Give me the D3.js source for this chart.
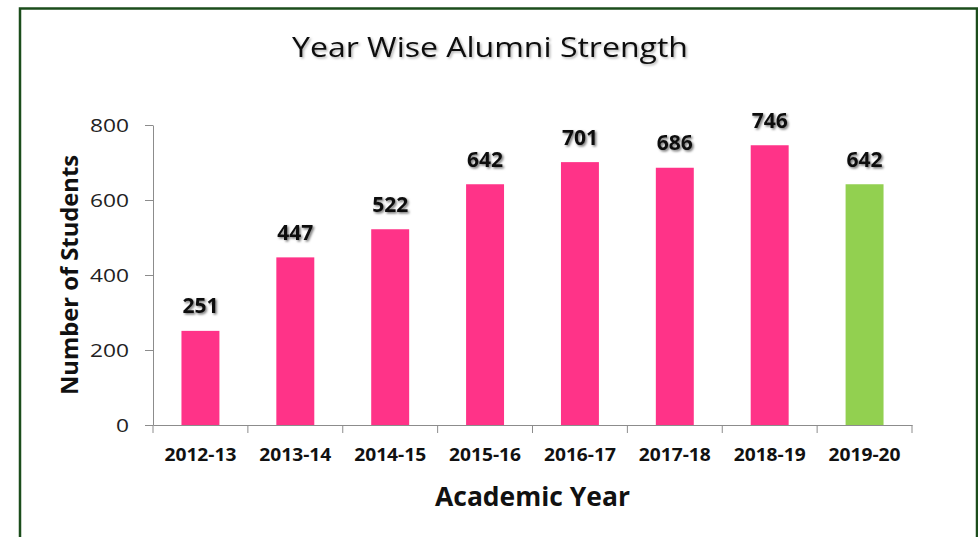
<!DOCTYPE html>
<html><head><meta charset="utf-8">
<script src="https://cdn.jsdelivr.net/npm/d3@7"></script>
<style>body{margin:0;background:#fff}svg{display:block}</style>
</head><body>
<svg id="c" width="978" height="537"></svg>
<script>
const categories = ["2012-13","2013-14","2014-15","2015-16","2016-17","2017-18","2018-19","2019-20"];
const values = [251,447,522,642,701,686,746,642];
const barColors = ["#FF3388","#FF3388","#FF3388","#FF3388","#FF3388","#FF3388","#FF3388","#92D050"];
const yTicks = [0,200,400,600,800];

const svg = d3.select("#c");
const font = "'Open Sans', sans-serif";

const defs = svg.append("defs");
const f = defs.append("filter").attr("id","sh").attr("x","-20%").attr("y","-20%").attr("width","150%").attr("height","160%");
f.append("feDropShadow").attr("dx",1.5).attr("dy",1.5).attr("stdDeviation",1.2).attr("flood-color","#000").attr("flood-opacity",0.55);
const f2 = defs.append("filter").attr("id","sh2").attr("x","-10%").attr("y","-20%").attr("width","130%").attr("height","160%");
f2.append("feDropShadow").attr("dx",1.5).attr("dy",1.5).attr("stdDeviation",1.3).attr("flood-color","#000").attr("flood-opacity",0.3);

svg.append("rect").attr("x",20).attr("y",8.5).attr("width",957).attr("height",540)
  .attr("fill","#fff").attr("stroke","#1b4d1b").attr("stroke-width",2.5);

const x = d3.scaleBand().domain(categories).range([153,912]).padding(0);
const y = d3.scaleLinear().domain([0,800]).range([425,125]);

// Y axis
const ya = svg.append("g").attr("transform","translate(153,0)")
  .call(d3.axisLeft(y).tickValues(yTicks).tickSize(8).tickPadding(16).tickSizeOuter(0));
ya.select(".domain").attr("stroke","#8c8c8c");
ya.selectAll(".tick line").attr("stroke","#8c8c8c");
ya.selectAll("text").attr("font-family",font).attr("font-size",19).attr("fill","#222")
  .attr("textLength",d=>String(d).length*13).attr("lengthAdjust","spacingAndGlyphs");

// bars
const bw = x.bandwidth()*0.4;
svg.append("g").selectAll("rect").data(values).join("rect")
  .attr("x",(d,i)=>x(categories[i])+x.bandwidth()/2-bw/2)
  .attr("y",d=>y(d)).attr("width",bw).attr("height",d=>y(0)-y(d))
  .attr("fill",(d,i)=>barColors[i]);

// X axis
const xa = svg.append("g").attr("transform","translate(0,425)")
  .call(d3.axisBottom(x).tickSize(0).tickPadding(23.5));
xa.select(".domain").attr("stroke","#8c8c8c");
xa.selectAll("text").attr("font-family",font).attr("font-size",17.5).attr("font-weight","bold").attr("fill","#111")
  .attr("textLength",72).attr("lengthAdjust","spacingAndGlyphs");
const bounds = categories.map(c=>x(c)).concat([x.range()[1]]);
xa.selectAll(".bt").data(bounds).join("line").attr("class","bt")
  .attr("x1",d=>d).attr("x2",d=>d).attr("y1",0).attr("y2",8).attr("stroke","#8c8c8c");

// value labels
svg.append("g").selectAll("text").data(values).join("text")
  .attr("x",(d,i)=>x(categories[i])+x.bandwidth()/2)
  .attr("y",d=>y(d)-17.5)
  .attr("text-anchor","middle").attr("font-family",font).attr("font-weight","bold")
  .attr("font-size",21).attr("fill","#111").attr("filter","url(#sh)")
  .text(d=>d);

// titles
svg.append("text").attr("x",490).attr("y",57).attr("text-anchor","middle")
  .attr("font-family",font).attr("font-size",28).attr("fill","#111").attr("filter","url(#sh2)")
  .attr("textLength",396).attr("lengthAdjust","spacingAndGlyphs").text("Year Wise Alumni Strength");
svg.append("text").attr("x",532.5).attr("y",506).attr("text-anchor","middle")
  .attr("font-family",font).attr("font-size",27).attr("font-weight","bold").attr("fill","#111")
  .attr("textLength",195).attr("lengthAdjust","spacingAndGlyphs").text("Academic Year");
svg.append("text").attr("transform","translate(78,275) rotate(-90)").attr("text-anchor","middle")
  .attr("font-family",font).attr("font-size",24).attr("font-weight","bold").attr("fill","#111")
  .attr("textLength",240).attr("lengthAdjust","spacingAndGlyphs").text("Number of Students");
</script>
</body></html>
